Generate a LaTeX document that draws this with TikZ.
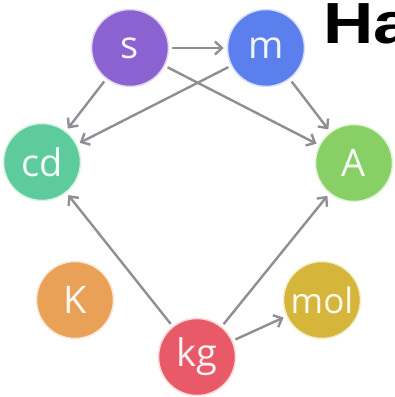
\documentclass[tikz,border=0pt]{standalone}
\usepackage{fontspec}
\setmainfont{Open Sans}
\newfontfamily\headfont{Liberation Sans}
\usepackage{xcolor}
\usetikzlibrary{arrows.meta,positioning}

\definecolor{colS}{HTML}{8C62D0}
\definecolor{colM}{HTML}{5B80EE}
\definecolor{colCd}{HTML}{5DCB9B}
\definecolor{colA}{HTML}{88D066}
\definecolor{colK}{HTML}{E9A157}
\definecolor{colMol}{HTML}{D5B63B}
\definecolor{colKg}{HTML}{E95A69}
\definecolor{linkgray}{HTML}{8E8E94}

\tikzset{
    unit/.style={circle, minimum size=77pt, inner sep=0pt, line width=1.5pt,
        draw=#1!25, fill=#1, text=white!92!#1, font=\fontsize{38}{38}\selectfont},
    link/.style={-{Straight Barb[length=7pt,width=13pt]}, draw=linkgray,
        line width=2.4pt, shorten >=3pt, shorten <=3pt}
}

\begin{document}
\begin{tikzpicture}[x=1pt,y=-1pt]
            \useasboundingbox (0,0) rectangle (395,397);

            \node [unit=colS] (s) at (130,48) {s};
            \node [unit=colM] (m) at (266,48) {m};
            \node [unit=colCd] (cd) at (42,162) {cd};
            \node [unit=colA] (A) at (354,163) {A};
            \node [unit=colK] (K) at (75,300) {K};
            \node [unit=colMol, font=\fontsize{35}{35}\selectfont] (mol) at (322,300) {mol};
            \node [unit=colKg] (kg) at (197,357) {kg};

            \node [anchor=base west, inner sep=0pt,
                font=\headfont\bfseries\fontsize{58}{58}\selectfont] (title) at (323,43)
                {\scalebox{1.2}[1]{Ha}};

            \draw [link] (s) -- (m);
            \draw [link] (s) -- (cd);
            \draw [link] (s) -- (A);
            \draw [link] (m) -- (cd);
            \draw [link] (m) -- (A);

            \draw [link] (kg) -- (cd);
            \draw [link] (kg) -- (A);
            \draw [link] (kg) -- (mol);
\end{tikzpicture}
\end{document}
